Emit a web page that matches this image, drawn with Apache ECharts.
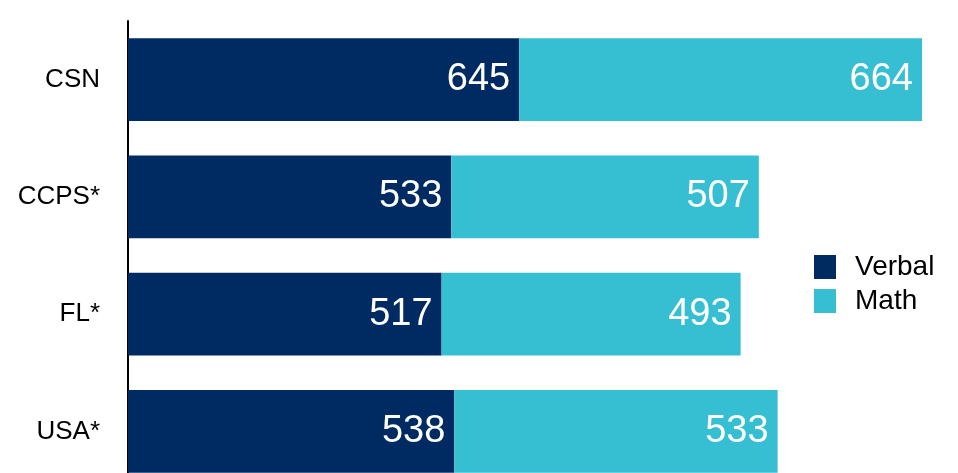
<!DOCTYPE html>
<html>
<head>
<meta charset="utf-8">
<script src="https://cdn.jsdelivr.net/npm/echarts@6/dist/echarts.min.js"></script>
<style>
  html, body { margin: 0; padding: 0; background: #fff; }
  #chart { width: 958px; height: 473px; }
</style>
</head>
<body>
<div id="chart"></div>
<script>
const categories = ['CSN', 'CCPS*', 'FL*', 'USA*']
const verbal = [645, 533, 517, 538]
const math = [664, 507, 493, 533]

const chart = echarts.init(document.getElementById('chart'))
const font = 'Liberation Sans, Arial, Helvetica, sans-serif'

const barLabel = {
  show: true,
  position: 'insideRight',
  distance: 9,
  color: '#fff',
  fontSize: 38,
  fontFamily: font
}

const option = {
  animation: false,
  grid: {
    left: 128,
    width: 794,
    top: 21,
    height: 469, // 底部超出画布，最后一根柱子被裁掉一部分
    outerBoundsMode: 'none'
  },
  legend: {
    orient: 'vertical',
    left: 809,
    top: 248,
    itemWidth: 22,
    itemHeight: 24,
    itemGap: 6,
    icon: 'rect',
    data: ['Verbal', 'Math'],
    textStyle: { fontSize: 28, color: '#000', fontFamily: font, padding: [0, 0, 0, 14] }
  },
  xAxis: {
    type: 'value',
    min: 0,
    max: 1309,
    show: false
  },
  yAxis: {
    type: 'category',
    data: categories,
    inverse: true,
    axisLine: { show: true, lineStyle: { color: '#000', width: 2 } },
    axisTick: { show: false },
    axisLabel: { fontSize: 26, color: '#000', fontFamily: font, margin: 28 }
  },
  series: [
    {
      name: 'Verbal',
      type: 'bar',
      stack: 'total',
      data: verbal,
      barCategoryGap: '29.3%',
      itemStyle: { color: '#002a62' },
      label: barLabel
    },
    {
      name: 'Math',
      type: 'bar',
      stack: 'total',
      data: math,
      itemStyle: { color: '#36bfd3' },
      label: barLabel
    }
  ]
}
chart.setOption(option)
</script>
</body>
</html>
